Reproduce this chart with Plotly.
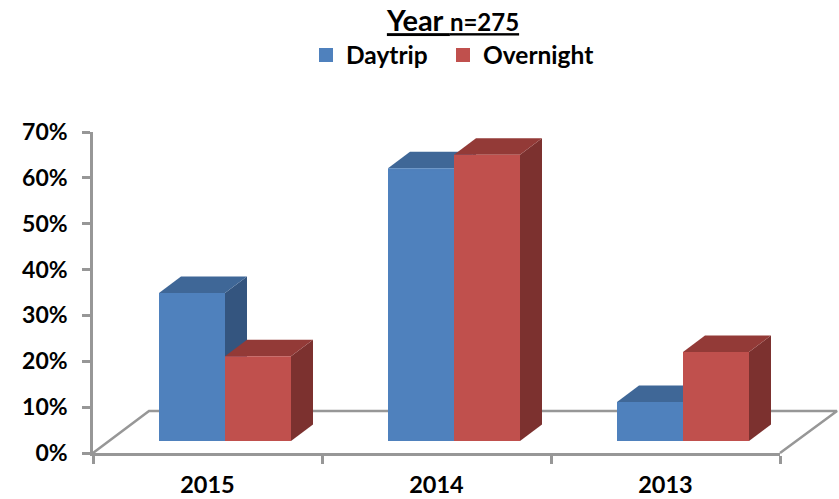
import plotly.graph_objects as go

years = ["2015", "2014", "2013"]
daytrip = [32.3, 59.5, 8.5]
overnight = [18.5, 62.4, 19.4]
y_ticks = [0, 10, 20, 30, 40, 50, 60, 70]
y_labels = ["0%", "10%", "20%", "30%", "40%", "50%", "60%", "70%"]

FONT = "Lato, Carlito, sans-serif"
BLUE, BLUE_TOP, BLUE_SIDE = "#4F81BD", "#3F6797", "#34557F"
RED, RED_TOP, RED_SIDE = "#C0504D", "#933A37", "#7C312F"
GREY = "#979797"

W, H = 839, 499
L, R, T, B = 93, 780, 132, 453
ux = (R - L) / 3.0          # px per category
uy = (B - T) / 70.0         # px per percent
bar_w = 66 / ux
shift = 17.5 / ux
base = 12 / uy
dx, dy = 22 / ux, 16.5 / uy
floor_dx, floor_dy = 56 / ux, 42 / uy
floor_right = 2.5 + 57 / ux

fig = go.Figure()

# floor: on a full-canvas axis pair sharing the chart's scale, so it may pass the plot edge
fig.add_trace(go.Scatter(
    x=[-0.5, -0.5 + floor_dx, floor_right, 2.5],
    y=[0, floor_dy, floor_dy, 0], mode="lines",
    line=dict(color=GREY, width=2.5), hoverinfo="skip", showlegend=False,
    xaxis="x", yaxis="y"))


def poly(xs, ys, color):
    fig.add_trace(go.Scatter(x=xs, y=ys, mode="lines", fill="toself", fillcolor=color,
                             line=dict(width=0, color=color), hoverinfo="skip",
                             showlegend=False, xaxis="x2", yaxis="y2"))


# depth faces
for i in range(len(years)):
    for vals, off, top_c, side_c in ((daytrip, -bar_w / 2, BLUE_TOP, BLUE_SIDE),
                                     (overnight, bar_w / 2, RED_TOP, RED_SIDE)):
        x0 = i + shift + off - bar_w / 2
        x1 = x0 + bar_w
        top = base + vals[i]
        poly([x1, x1 + dx, x1 + dx, x1, x1], [base, base + dy, top + dy, top, base], side_c)
        poly([x0, x1, x1 + dx, x0 + dx, x0], [top, top, top + dy, top + dy, top], top_c)

# front faces (outline keeps the legend swatch near the reference's size)
for name, vals, off, col, leg in (("Daytrip", daytrip, -bar_w / 2, BLUE, "legend"),
                                  ("Overnight", overnight, bar_w / 2, RED, "legend2")):
    fig.add_trace(go.Bar(
        name=name, x=[i + shift + off for i in range(len(years))],
        y=[v - 2 / uy for v in vals],
        base=[base + 1 / uy] * len(years), width=bar_w - 2 / ux,
        marker=dict(color=col, line=dict(color=col, width=2)),
        xaxis="x3", yaxis="y3", legend=leg, showlegend=True))

legend_font = dict(family=FONT, size=24.5, color="#000000", weight="bold")
fig.update_layout(
    width=W, height=H, autosize=False, showlegend=True,
    margin=dict(l=0, r=0, t=0, b=0, pad=0, autoexpand=False),
    paper_bgcolor="white", plot_bgcolor="rgba(0,0,0,0)",
    font=dict(family=FONT, color="#000000"),
    barmode="overlay",
    title=dict(
        text="<b><u>Year <span style='font-size:24px'>n=275</span></u></b>",
        font=dict(family=FONT, size=29, color="#000000"),
        x=453 / W, xanchor="center", xref="container",
        y=1 - 21 / H, yanchor="middle", yref="container"),
    legend=dict(
        orientation="h", x=306 / W, xanchor="left", y=1 - 55 / H, yanchor="middle",
        font=legend_font, itemclick=False, itemdoubleclick=False,
        bgcolor="rgba(0,0,0,0)"),
    legend2=dict(
        orientation="h", x=443 / W, xanchor="left", y=1 - 55 / H, yanchor="middle",
        font=legend_font, itemclick=False, itemdoubleclick=False,
        bgcolor="rgba(0,0,0,0)"),
    xaxis=dict(domain=[0, 1], range=[-0.5 - L / ux, -0.5 + (W - L) / ux],
               visible=False, anchor="y"),
    yaxis=dict(domain=[0, 1], range=[-(H - B) / uy, B / uy], visible=False, anchor="x"),
    xaxis2=dict(
        domain=[L / W, R / W], anchor="y2",
        range=[-0.5, 2.5], tickmode="array", tickvals=[0, 1, 2], ticktext=years,
        ticks="", showgrid=False, zeroline=False, showline=True,
        linecolor=GREY, linewidth=2.5, ticklabelstandoff=9,
        tickfont=dict(family=FONT, size=23.5, color="#000000", weight="bold"),
        minor=dict(tickmode="array", tickvals=[-0.5, 0.5, 1.5, 2.5], ticks="outside",
                   ticklen=8, tickwidth=2.5, tickcolor=GREY, showgrid=False)),
    yaxis2=dict(
        domain=[1 - B / H, 1 - T / H], anchor="x2",
        range=[0, 70], tickmode="array", tickvals=y_ticks, ticktext=y_labels,
        ticks="outside", ticklen=8, tickwidth=2.5, tickcolor=GREY,
        showgrid=False, zeroline=False, showline=True, linecolor=GREY, linewidth=2.5,
        ticklabelstandoff=10,
        tickfont=dict(family=FONT, size=23, color="#000000", weight="bold")),
    xaxis3=dict(range=[-0.5, 2.5], overlaying="x2", visible=False, anchor="y3"),
    yaxis3=dict(range=[0, 70], overlaying="y2", visible=False, anchor="x3"),
)

fig.write_html(
    "out.html",
    config=dict(displayModeBar=False),
    post_script="document.body.style.margin='0';document.documentElement.style.overflow='hidden';",
)
